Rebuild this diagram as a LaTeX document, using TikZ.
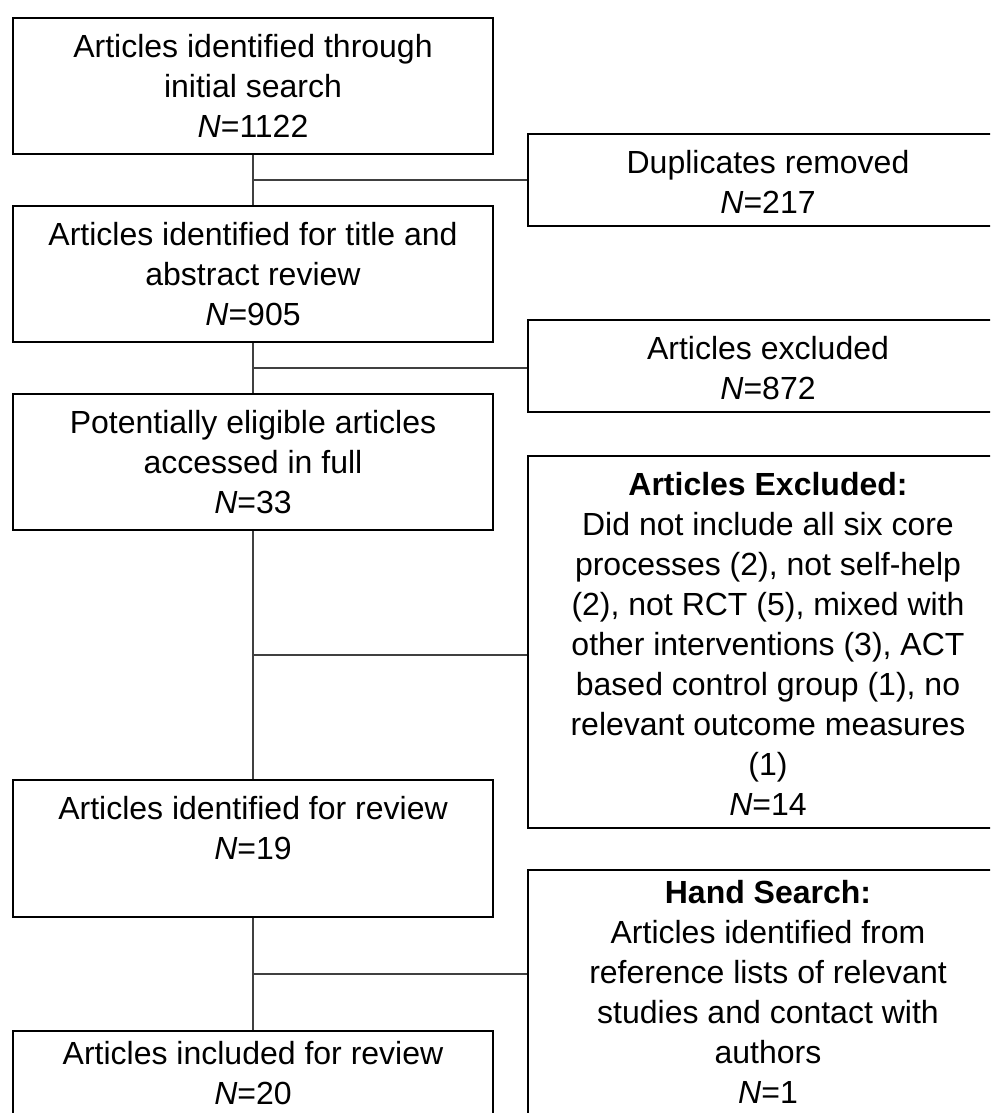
\documentclass[tikz,border=0pt]{standalone}
\usepackage{fontspec}
\setmainfont{Liberation Sans}
\usepackage{tikz}
\usetikzlibrary{calc,positioning}

\begin{document}
\begin{tikzpicture}[x=.5pt,y=-.5pt,
	hop/.style={draw,line width=1pt,minimum width=240pt,minimum height=#1,anchor=north west,inner sep=0pt},
	chu/.style={anchor=north,align=center,inner sep=0pt,font=\fontsize{16}{20}\selectfont,execute at begin node=\strut},
	noi/.style={line width=.55pt,black!75}]
	\clip (0,0) rectangle (990,1113);
	% cot trai
	\node[hop=68pt] (b1) at (12,17) {};
	\node[hop=68pt] (b2) at (12,205) {};
	\node[hop=68pt] (b3) at (12,393) {};
	\node[hop=68.5pt] (b4) at (12,779) {};
	\node[hop=80pt] (b5) at (12,1030) {};
	% cot phai
	\node[hop=46pt] (r1) at (527,133) {};
	\node[hop=46pt] (r2) at (527,319) {};
	\node[hop=186pt] (r3) at (527,455) {};
	\node[hop=150pt] (r4) at (527,869) {};
	% chu trong hop
	\node[chu] (t1) at ($(b1.north)+(0,17)$) {Articles identified through\\initial search\\\textit{N}=1122};
	\node[chu] (t2) at ($(b2.north)+(0,17)$) {Articles identified for title and\\abstract review\\\textit{N}=905};
	\node[chu] (t3) at ($(b3.north)+(0,17)$) {Potentially eligible articles\\accessed in full\\\textit{N}=33};
	\node[chu] (t4) at ($(b4.north)+(0,17)$) {Articles identified for review\\\textit{N}=19};
	\node[chu] (t5) at ($(b5.north)+(0,11)$) {Articles included for review\\\textit{N}=20};
	\node[chu] (s1) at ($(r1.north)+(0,17)$) {Duplicates removed\\\textit{N}=217};
	\node[chu] (s2) at ($(r2.north)+(0,17)$) {Articles excluded\\\textit{N}=872};
	\node[chu] (s3) at ($(r3.north)+(0,17)$) {\textbf{Articles Excluded:}\\Did not include all six core\\processes (2), not self-help\\(2), not RCT (5), mixed with\\other interventions (3), ACT\\based control group (1), no\\relevant outcome measures\\(1)\\\textit{N}=14};
	\node[chu] (s4) at ($(r4.north)+(0,11)$) {\textbf{Hand Search:}\\Articles identified from\\reference lists of relevant\\studies and contact with\\authors\\\textit{N}=1};
	% duong noi
	\draw[noi] (b1.south)--(b2.north);
	\draw[noi] (b2.south)--(b3.north);
	\draw[noi] (b3.south)--(b4.north);
	\draw[noi] (b4.south)--(b5.north);
	\coordinate (m1) at ($(b1.south)!.5!(b2.north)$);
	\coordinate (m2) at ($(b2.south)!.5!(b3.north)$);
	\coordinate (m3) at ($(b3.south)!.5!(b4.north)$);
	\coordinate (m4) at ($(b4.south)!.5!(b5.north)$);
	\draw[noi] (m1)--(m1-|r1.west);
	\draw[noi] (m2)--(m2-|r2.west);
	\draw[noi] (m3)--(m3-|r3.west);
	\draw[noi] (m4)--(m4-|r4.west);
\end{tikzpicture}
\end{document}
